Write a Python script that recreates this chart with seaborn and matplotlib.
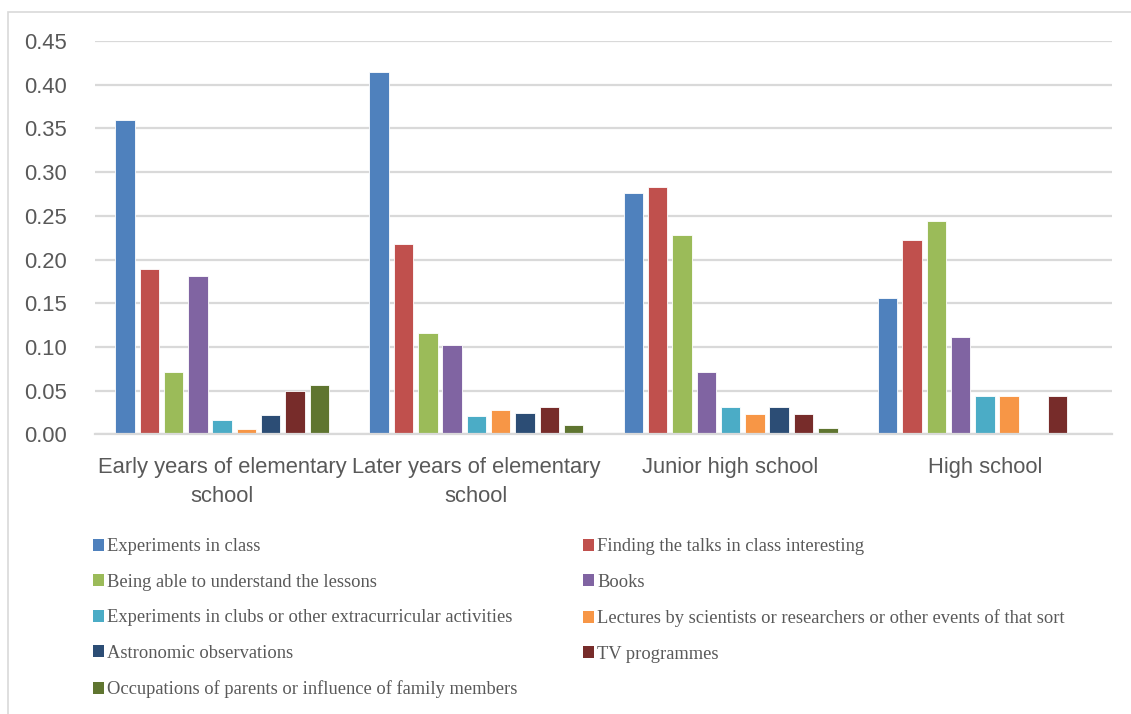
import numpy as np
import pandas as pd
import matplotlib
matplotlib.use("Agg")
import matplotlib.pyplot as plt
from matplotlib.patches import Patch, Rectangle
import seaborn as sns

stages = ["Early years of elementary\nschool", "Later years of elementary\nschool",
          "Junior high school", "High school"]

factors = [
    "Experiments in class",
    "Finding the talks in class interesting",
    "Being able to understand the lessons",
    "Books",
    "Experiments in clubs or other extracurricular activities",
    "Lectures by scientists or researchers or other events of that sort",
    "Astronomic observations",
    "TV programmes",
    "Occupations of parents or influence of family members",
]

experiments_in_class = [0.360, 0.415, 0.276, 0.156]
talks_interesting = [0.189, 0.218, 0.283, 0.222]
understand_lessons = [0.072, 0.116, 0.228, 0.244]
books = [0.181, 0.102, 0.071, 0.111]
club_experiments = [0.017, 0.021, 0.031, 0.044]
lectures = [0.006, 0.028, 0.024, 0.044]
astronomic = [0.022, 0.025, 0.031, np.nan]
tv_programmes = [0.050, 0.032, 0.024, 0.044]
family_influence = [0.057, 0.011, 0.008, np.nan]

series = [experiments_in_class, talks_interesting, understand_lessons, books,
          club_experiments, lectures, astronomic, tv_programmes, family_influence]

colors = ["#4F81BD", "#C0504D", "#9BBB59", "#8064A2", "#4BACC6",
          "#F79646", "#2C4D75", "#772C2A", "#5F7530"]

rows = []
for name, vals in zip(factors, series):
    for stage, v in zip(stages, vals):
        rows.append({"stage": stage, "factor": name, "share": v})
df = pd.DataFrame(rows)

sns.set_theme(style="white")
plt.rcParams["font.family"] = ["Liberation Sans", "DejaVu Sans"]

fig = plt.figure(figsize=(11.31, 7.14), dpi=100)
ax = fig.add_axes([95 / 1131, 1 - 434.5 / 714, (1112 - 95) / 1131, (434.5 - 41) / 714])

sns.barplot(data=df, x="stage", y="share", hue="factor", order=stages,
            hue_order=factors, palette=colors, width=0.86, gap=0.2,
            errorbar=None, edgecolor="white", linewidth=0.6, ax=ax,
            saturation=1, legend=False)

ax.set_ylim(0, 0.45)
ax.set_xlim(-0.5, 3.5)
ax.set_yticks(np.arange(0, 0.451, 0.05))
ax.set_yticklabels([f"{t:.2f}" for t in np.arange(0, 0.451, 0.05)])
ax.yaxis.grid(True, color="#D9D9D9", linewidth=1.6)
ax.set_axisbelow(True)
for side in ["top", "right", "left"]:
    ax.spines[side].set_visible(False)
ax.spines["bottom"].set_color("#D9D9D9")
ax.spines["bottom"].set_linewidth(1.6)
ax.set_xlabel("")
ax.set_ylabel("")
ax.tick_params(axis="both", length=0, colors="#595959", labelsize=15.8)
ax.tick_params(axis="y", pad=20)
ax.tick_params(axis="x", pad=16.5)
for lbl in ax.get_xticklabels():
    lbl.set_linespacing(1.5)

# outer chart frame
fig.add_artist(Rectangle((7.5 / 1131, -0.1), 1.2, 1 - 12 / 714 + 0.1,
                         transform=fig.transFigure, fill=False,
                         edgecolor="#D9D9D9", linewidth=1.2))

handles = [Patch(facecolor=c, edgecolor="none") for c in colors]
legend_kw = dict(frameon=False, handlelength=0.6, handleheight=0.6,
                 handletextpad=0.15, labelspacing=1.0, borderaxespad=0,
                 prop={"family": ["Liberation Serif"], "size": 13.3},
                 labelcolor="#595959")
left_idx = [0, 2, 4, 6, 8]
right_idx = [1, 3, 5, 7]
leg1 = fig.legend([handles[i] for i in left_idx], [factors[i] for i in left_idx],
                  loc="upper left", bbox_to_anchor=(86 / 1131, 1 - 531 / 714),
                  **legend_kw)
leg2 = fig.legend([handles[i] for i in right_idx], [factors[i] for i in right_idx],
                  loc="upper left", bbox_to_anchor=(576 / 1131, 1 - 531 / 714),
                  **legend_kw)

fig.savefig("out.png", dpi=100)
